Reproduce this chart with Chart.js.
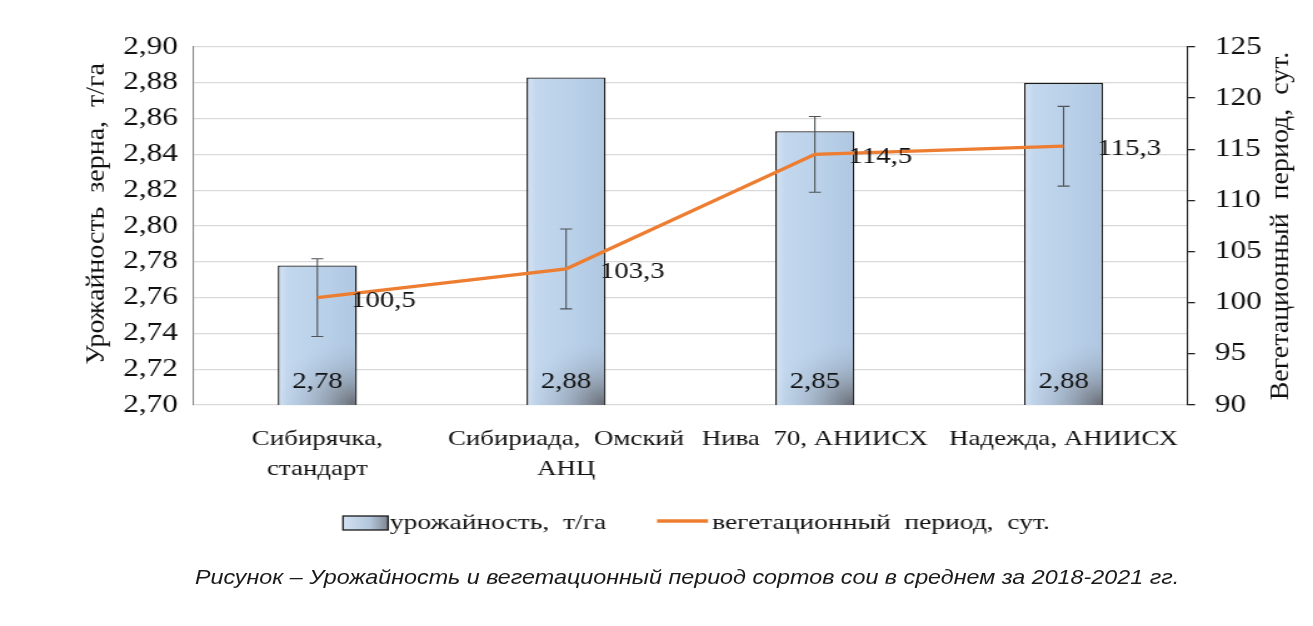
<!DOCTYPE html>
<html>
<head>
<meta charset="utf-8">
<script src="https://cdn.jsdelivr.net/npm/chart.js@4"></script>
<style>
html,body{margin:0;padding:0;background:#fff;overflow:hidden;}
#wrap{position:relative;width:1313px;height:626px;overflow:hidden;}
#stretch{position:absolute;left:0;top:0;width:1050px;height:626px;transform:scaleX(1.2505);transform-origin:0 0;}
#caption{position:absolute;left:0;top:564px;width:1374px;text-align:center;
  font:italic 21px "Liberation Sans", Arial, sans-serif;line-height:26px;color:#1a1a1a;
  transform:scaleX(1.11);transform-origin:687px 0;white-space:nowrap;}
</style>
</head>
<body>
<div id="wrap">
  <div id="stretch"><canvas id="c" width="1050" height="626"></canvas></div>
  <div id="caption"></div>
</div>
<script>
// ---- data ----
const categories = [
  ['Сибирячка,', 'стандарт'],
  ['Сибириада,  Омский', 'АНЦ'],
  'Нива  70, АНИИСХ',
  'Надежда, АНИИСХ'
];
const yieldValues = [2.778, 2.883, 2.853, 2.880];
const yieldLabels = ['2,78', '2,88', '2,85', '2,88'];
const periodValues = [100.5, 103.3, 114.5, 115.3];
const periodLabels = ['100,5', '103,3', '114,5', '115,3'];
const periodErrors = [3.8, 3.9, 3.7, 3.9];
const yieldSeriesName = 'урожайность,  т/га';
const periodSeriesName = 'вегетационный  период,  сут.';
const leftAxisTitle = 'Урожайность  зерна,  т/га';
const rightAxisTitle = 'Вегетационный  период,  сут.';
const captionText = 'Рисунок – Урожайность и вегетационный период сортов сои в среднем за 2018-2021 гг.';

document.getElementById('caption').textContent = captionText;

const SERIF = '"Liberation Serif", "DejaVu Serif", serif';
const ORANGE = '#ED7D31';
const BAR_PCT = 0.318;

function barFill(ctx) {
  const chart = ctx.chart;
  const xs = chart.scales && chart.scales.x;
  if (!xs || ctx.type !== 'data') return '#bcd3eb';
  const cx = xs.getPixelForValue(ctx.dataIndex);
  const half = xs.width / categories.length * BAR_PCT / 2;
  if (!isFinite(cx) || !isFinite(half) || half <= 0) return '#bcd3eb';
  const g = chart.ctx.createLinearGradient(cx - half, 0, cx + half, 0);
  g.addColorStop(0, '#d6e4f4');
  g.addColorStop(0.12, '#c3d8ee');
  g.addColorStop(0.6, '#b9d0e9');
  g.addColorStop(1, '#afc7e1');
  return g;
}

const overlayPlugin = {
  id: 'overlays',
  afterDatasetDraw(chart, args) {
    if (args.index !== 0) return;
    const ctx = chart.ctx;
    const xs = chart.scales.x, y = chart.scales.y, y1 = chart.scales.y1;
    const half = xs.width / categories.length * BAR_PCT / 2;
    // darkening toward the lower right corner of each bar
    yieldValues.forEach((v, i) => {
      const cx = xs.getPixelForValue(i);
      const top = y.getPixelForValue(v);
      const base = y.bottom;
      const l = cx - half + 1, r = cx + half - 1;
      const rg = ctx.createRadialGradient(r, base, 0, r, base, 66);
      rg.addColorStop(0, 'rgba(98,100,106,0.92)');
      rg.addColorStop(0.45, 'rgba(135,145,158,0.5)');
      rg.addColorStop(1, 'rgba(175,195,220,0)');
      ctx.save();
      ctx.fillStyle = rg;
      ctx.fillRect(l, top + 1, r - l, base - top - 1);
      ctx.restore();
    });
    // error bars of the line series (right axis)
    ctx.save();
    ctx.strokeStyle = '#4d5358';
    ctx.lineWidth = 1.1;
    periodValues.forEach((v, i) => {
      const x = xs.getPixelForValue(i);
      const yt = y1.getPixelForValue(v + periodErrors[i]);
      const yb = y1.getPixelForValue(v - periodErrors[i]);
      ctx.beginPath();
      ctx.moveTo(x, yt); ctx.lineTo(x, yb);
      ctx.moveTo(x - 4.8, yt); ctx.lineTo(x + 4.8, yt);
      ctx.moveTo(x - 4.8, yb); ctx.lineTo(x + 4.8, yb);
      ctx.stroke();
    });
    ctx.restore();
  },
  afterDraw(chart) {
    const ctx = chart.ctx;
    const xs = chart.scales.x, y = chart.scales.y, y1 = chart.scales.y1;
    ctx.save();
    ctx.fillStyle = '#111';
    ctx.font = '23px ' + SERIF;
    ctx.textBaseline = 'middle';
    ctx.textAlign = 'center';
    yieldLabels.forEach((t, i) => {
      ctx.fillText(t, xs.getPixelForValue(i), y.bottom - 23);
    });
    ctx.textAlign = 'left';
    periodLabels.forEach((t, i) => {
      ctx.fillText(t, xs.getPixelForValue(i) + 27, y1.getPixelForValue(periodValues[i]) + 3);
    });
    // axis titles (rotated, reading bottom to top)
    ctx.font = '22px ' + SERIF;
    ctx.textAlign = 'center';
    ctx.save();
    ctx.translate(77.6, 214);
    ctx.rotate(-Math.PI / 2);
    ctx.scale(1.27, 0.94);
    ctx.fillText(leftAxisTitle, 0, 0);
    ctx.restore();
    ctx.save();
    ctx.translate(1024.4, 226);
    ctx.rotate(-Math.PI / 2);
    ctx.scale(1.27, 0.94);
    ctx.fillText(rightAxisTitle, 0, 0);
    ctx.restore();
    // legend
    const ly = 523;
    const bx = 274.3, bw = 36;
    const lg = ctx.createLinearGradient(bx, 0, bx + bw, 0);
    lg.addColorStop(0, '#d3e2f3');
    lg.addColorStop(0.6, '#b3c6db');
    lg.addColorStop(1, '#7f8792');
    ctx.fillStyle = lg;
    ctx.fillRect(bx, ly - 7, bw, 14);
    ctx.strokeStyle = '#1a1a1a';
    ctx.lineWidth = 1.3;
    ctx.strokeRect(bx, ly - 7, bw, 14);
    ctx.fillStyle = '#111';
    ctx.textAlign = 'left';
    ctx.font = '22px ' + SERIF;
    ctx.fillText(yieldSeriesName, 311.8, ly);
    ctx.strokeStyle = ORANGE;
    ctx.lineWidth = 3.5;
    ctx.beginPath();
    ctx.moveTo(525.4, ly - 2); ctx.lineTo(566.2, ly - 2);
    ctx.stroke();
    ctx.fillText(periodSeriesName, 569.4, ly);
    ctx.restore();
  }
};

new Chart(document.getElementById('c'), {
  data: {
    labels: categories,
    datasets: [
      {
        type: 'bar',
        label: yieldSeriesName,
        data: yieldValues,
        yAxisID: 'y',
        backgroundColor: barFill,
        borderColor: '#1a1a1a',
        borderWidth: 1.4,
        barPercentage: BAR_PCT,
        categoryPercentage: 1,
        order: 2
      },
      {
        type: 'line',
        label: periodSeriesName,
        data: periodValues,
        yAxisID: 'y1',
        borderColor: ORANGE,
        backgroundColor: ORANGE,
        borderWidth: 3.3,
        pointRadius: 0,
        tension: 0,
        order: 1
      }
    ]
  },
  options: {
    responsive: false,
    animation: false,
    events: [],
    layout: { padding: { top: 47, left: 0, right: 0, bottom: 0 } },
    plugins: { legend: { display: false }, tooltip: { enabled: false } },
    scales: {
      x: {
        grid: { display: false, drawTicks: false },
        border: { display: false },
        ticks: {
          autoSkip: false, maxRotation: 0, minRotation: 0, padding: 20,
          color: '#111',
          font: { family: SERIF, size: 21.5, lineHeight: 1.38 }
        },
        afterFit(s) { s.height = 221; }
      },
      y: {
        position: 'left',
        min: 2.70, max: 2.90,
        ticks: {
          stepSize: 0.02, padding: 12, color: '#111',
          font: { family: SERIF, size: 25 },
          callback: v => Number(v).toFixed(2).replace('.', ',')
        },
        grid: { color: '#d9d9d9', lineWidth: 1.2, drawTicks: false },
        border: { color: '#8a8a8a', width: 1.1 },
        afterFit(s) { s.width = 154.3; }
      },
      y1: {
        position: 'right',
        min: 90, max: 125,
        ticks: {
          stepSize: 5, padding: 16, color: '#111',
          font: { family: SERIF, size: 25 }
        },
        grid: { drawOnChartArea: false, drawTicks: true, tickLength: 5.6, color: '#222', lineWidth: 1.3 },
        border: { color: '#222', width: 1.1 },
        afterFit(s) { s.width = 100; }
      }
    }
  },
  plugins: [overlayPlugin]
});
</script>
</body>
</html>
